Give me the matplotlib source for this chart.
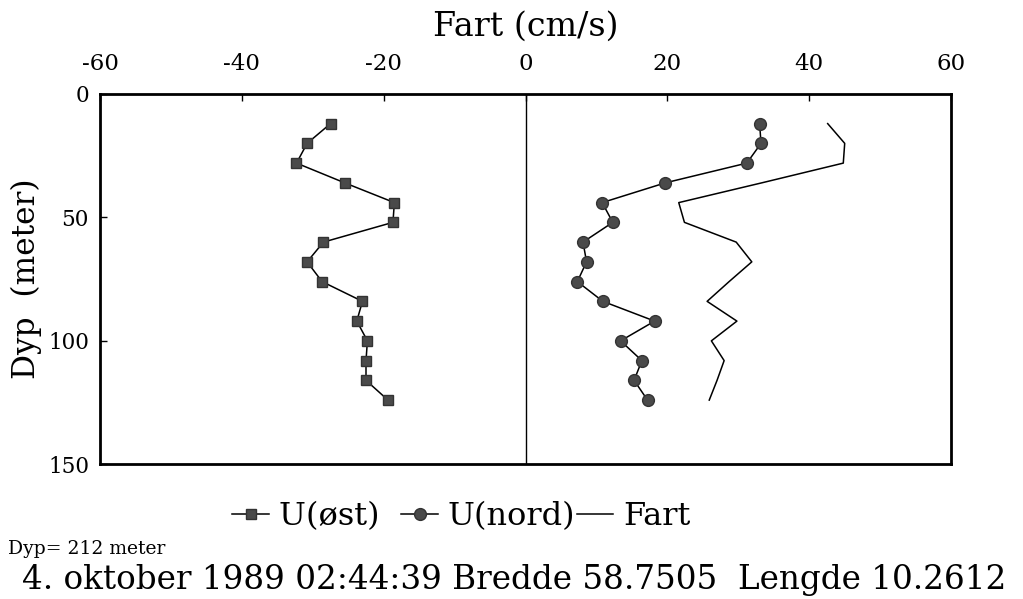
import numpy as np
import matplotlib
matplotlib.use('Agg')
import matplotlib.pyplot as plt

plt.rcParams['font.family'] = ['DejaVu Serif']
plt.rcParams['axes.unicode_minus'] = False

# depth (m) and velocity components (cm/s) read from the profile
depth = [12, 20, 28, 36, 44, 52, 60, 68, 76, 84, 92, 100, 108, 116, 124]
u_ost = [-27.5, -30.8, -32.3, -25.5, -18.5, -18.7, -28.5, -30.8, -28.7,
         -23.0, -23.8, -22.3, -22.5, -22.5, -19.4]
u_nord = [33.0, 33.2, 31.2, 19.7, 10.8, 12.3, 8.1, 8.6, 7.3,
          10.9, 18.2, 13.4, 16.4, 15.3, 17.2]
fart = [42.6, 45.0, 44.8, 33.3, 21.6, 22.4, 29.7, 31.9, 28.7,
        25.6, 29.8, 26.2, 28.0, 27.0, 25.9]

x_ticks = [-60, -40, -20, 0, 20, 40, 60]
y_ticks = [0, 50, 100, 150]

fig = plt.figure(figsize=(10.23, 5.99), dpi=100)
ax = fig.add_axes([0.0978, 0.2249, 0.8319, 0.6182])

ax.axvline(0, color='black', lw=1.0)
ax.plot(u_ost, depth, color='black', lw=1.1, marker='s', markersize=7.5,
        markerfacecolor='#4a4a4a', markeredgecolor='#333333', label='U(øst)  ')
ax.plot(u_nord, depth, color='black', lw=1.1, marker='o', markersize=8.5,
        markerfacecolor='#4a4a4a', markeredgecolor='#333333', label='U(nord)')
ax.plot(fart, depth, color='black', lw=1.1, label='Fart')

ax.set_xlim(-60, 60)
ax.set_ylim(150, 0)
ax.set_xticks(x_ticks)
ax.set_yticks(y_ticks)
ax.xaxis.tick_top()
ax.xaxis.set_label_position('top')
ax.tick_params(axis='x', direction='in', length=5, width=1, labelsize=16.5, pad=14)
ax.tick_params(axis='y', direction='in', length=5, width=1, labelsize=15.5, pad=8)
for s in ax.spines.values():
    s.set_linewidth(2.0)

ax.set_xlabel('Fart (cm/s)', fontsize=24, labelpad=12)
ax.set_ylabel('Dyp  (meter)', fontsize=22.5, labelpad=4)

fig.legend(loc='center', bbox_to_anchor=(0.451, 0.138), ncol=3, frameon=False,
           fontsize=23, handlelength=1.15, handletextpad=0.3, columnspacing=0.05,
           borderpad=0, borderaxespad=0)

fig.text(8 / 1023, 1 - 549 / 599, 'Dyp= 212 meter', fontsize=13.5, va='center')
fig.text(22 / 1023, 1 - 580 / 599,
         '4. oktober 1989 02:44:39 Bredde 58.7505  Lengde 10.2612',
         fontsize=23.5, va='center')

fig.savefig('out.png', dpi=100)
